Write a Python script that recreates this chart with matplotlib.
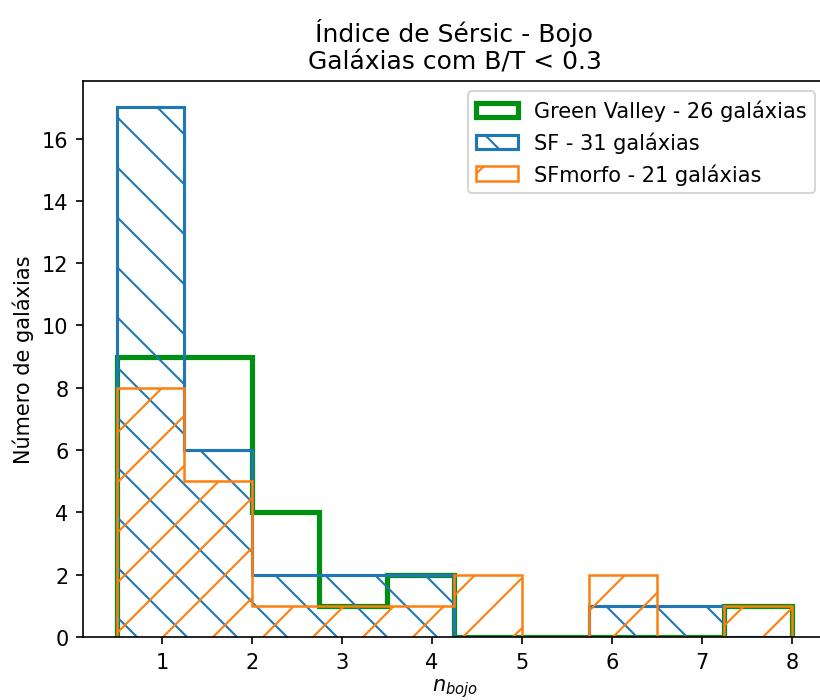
import matplotlib
matplotlib.use('Agg')
import matplotlib.pyplot as plt

# Data: histogram bins and counts per bin
bins = [0.5, 1.25, 2.0, 2.75, 3.5, 4.25, 5.0, 5.75, 6.5, 7.25, 8.0]
gv_counts = [9, 9, 4, 1, 2, 0, 0, 0, 0, 1]
sf_counts = [17, 6, 2, 2, 2, 0, 0, 1, 1, 0]
sfm_counts = [8, 5, 1, 1, 1, 2, 0, 2, 0, 1]

fig = plt.figure(figsize=(820 / 150, 701 / 150), dpi=150)
ax = fig.add_axes([0.1015, 0.0899, 0.9055, 0.7932])

left = bins[:-1]
ax.hist(left, bins=bins, weights=gv_counts, histtype='step', color='#008f10',
        lw=2.5, label=f'Green Valley - {sum(gv_counts)} galáxias')
ax.hist(left, bins=bins, weights=sf_counts, histtype='step', color='C0',
        lw=1.5, hatch='\\', label=f'SF - {sum(sf_counts)} galáxias')
ax.hist(left, bins=bins, weights=sfm_counts, histtype='step', color='C1',
        lw=1.2, hatch='/', label=f'SFmorfo - {sum(sfm_counts)} galáxias')

ax.set_title('Índice de Sérsic - Bojo\nGaláxias com B/T < 0.3')
ax.set_xlabel('$n_{bojo}$', labelpad=2)
ax.set_ylabel('Número de galáxias')
ax.legend(loc='upper right')

fig.savefig('out.png', dpi=150)
